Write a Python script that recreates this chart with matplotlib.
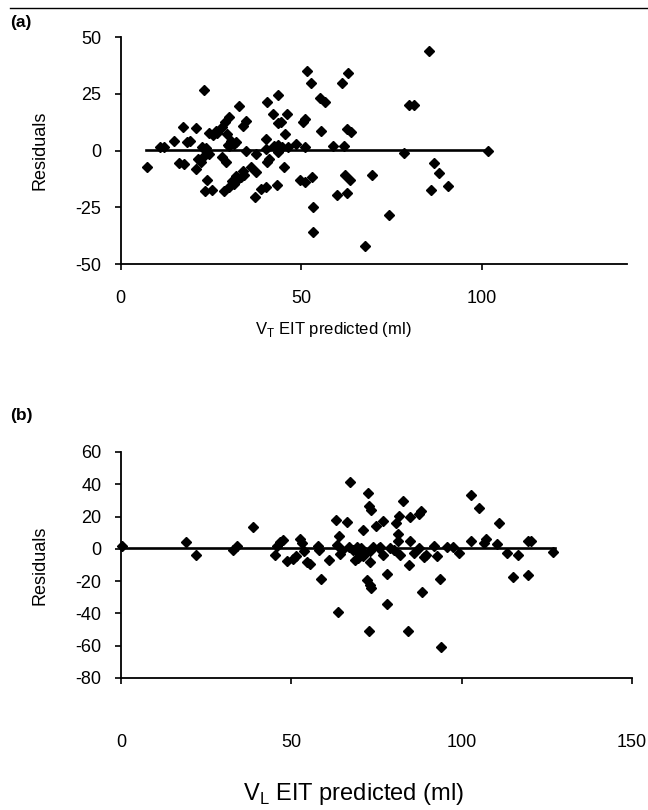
import matplotlib
matplotlib.use("Agg")
import matplotlib.pyplot as plt
from matplotlib.lines import Line2D

plt.rcParams['font.family'] = ['Liberation Sans', 'DejaVu Sans']
plt.rcParams['mathtext.fontset'] = 'custom'
plt.rcParams['axes.unicode_minus'] = False

TICKFONT = ['Liberation Sans Narrow', 'Liberation Sans', 'DejaVu Sans']

# Panel (a): VT EIT predicted vs residuals
a_x = [7.2, 10.8, 11.9, 14.7, 17.3, 16.0, 17.6, 18.4, 19.3, 20.9, 21.3, 22.2, 20.7, 23.0,
       22.5, 23.5, 24.0, 23.2, 24.5, 23.8, 23.3, 25.2, 24.4, 25.5, 26.3, 26.7, 28.0, 28.9,
       30.0, 32.8, 34.6, 33.7, 29.5, 30.4, 31.8, 30.0, 28.1, 29.0, 34.6, 37.4, 36.0, 37.4,
       31.8, 30.9, 33.2, 34.0, 28.6, 30.0, 31.4, 32.5, 37.2, 38.8, 40.2, 43.3, 40.2, 40.2,
       41.1, 40.6, 40.5, 42.2, 43.6, 43.4, 44.4, 46.0, 45.5, 42.5, 43.5, 44.5, 43.4, 45.3,
       46.2, 48.5, 49.5, 51.0, 50.9, 50.4, 51.0, 51.6, 52.7, 52.9, 53.1, 53.1, 55.2, 56.5,
       55.5, 58.6, 61.8, 61.1, 63.0, 62.7, 63.7, 62.1, 63.3, 59.9, 62.5, 67.6, 69.4, 74.2,
       78.3, 79.7, 81.2, 85.3, 86.8, 88.1, 90.4, 85.7, 101.7, 31.3, 29.6, 33.7]
a_y = [-7.3, 1.5, 1.5, 4.4, 10.6, -5.6, -5.8, 3.7, 4.3, 10.0, -3.5, -4.8, -8.2, 26.9,
       1.5, 1.0, -0.5, -2.0, -1.5, -12.9, -17.6, -17.3, 7.6, 6.8, 8.5, 7.6, 10.3, 12.5,
       15.0, 19.8, 13.2, 10.7, 7.3, 4.4, 3.7, 2.2, -3.0, -5.0, 0.0, -1.5, -7.0, -9.3,
       -11.0, -13.2, -11.7, -10.6, -17.6, -16.2, -14.7, -12.5, -20.5, -16.9, -15.9, -15.0, 5.1, 0.7,
       -3.7, -5.1, 21.6, 16.2, 24.7, 12.0, 12.5, 16.2, 7.3, 2.0, 2.5, 1.8, -0.7, -7.0,
       1.5, 2.9, -13.0, -13.8, 13.9, 12.5, 1.8, 35.2, 29.7, -11.5, -25.0, -35.8, 23.4, 21.6,
       8.8, 1.9, 1.9, 29.7, 34.1, 9.4, 8.2, -10.6, -12.9, -19.4, -18.5, -42.0, -10.6, -28.3,
       -1.0, 20.3, 20.3, 44.0, -5.6, -10.0, -15.7, -17.2, -0.2, 3.0, 2.4, -8.8]
a_fit_x = [7.0, 101.7]
a_fit_y = [0.4, 0.4]
a_xticks = [0, 50, 100]
a_yticks = [-50, -25, 0, 25, 50]

# Panel (b): VL EIT predicted vs residuals
b_x = [0.2, 19.1, 22.0, 32.8, 34.0, 38.8, 45.3, 45.7, 46.7, 47.5, 48.7, 50.6, 51.4, 52.5,
       53.2, 53.6, 54.5, 55.6, 57.9, 58.2, 58.8, 61.1, 63.2, 63.4, 63.9, 64.4, 64.8, 66.2,
       67.2, 66.8, 68.2, 68.6, 69.4, 69.6, 69.7, 70.6, 63.8, 71.1, 71.4, 72.6, 72.9, 73.4,
       72.1, 73.0, 73.4, 72.9, 73.0, 73.0, 74.1, 75.0, 75.6, 77.0, 77.0, 78.0, 78.0, 79.0,
       80.0, 80.7, 81.7, 81.4, 81.4, 82.0, 82.9, 84.7, 84.9, 84.6, 84.3, 85.9, 87.4, 87.6,
       88.0, 88.3, 88.8, 89.5, 91.8, 92.8, 93.6, 94.0, 95.6, 97.5, 99.2, 102.8, 102.7, 105.0,
       106.5, 107.1, 110.3, 111.0, 113.4, 115.1, 116.6, 119.6, 120.5, 119.6, 126.9, 76.0, 70.9]
b_y = [1.9, 4.5, -4.1, -0.6, 1.9, 13.4, -3.9, 1.9, 4.2, 5.4, -7.8, -6.4, -4.7, 6.2,
       3.8, -1.5, -8.2, -9.3, 1.7, -0.6, -18.8, -7.0, 17.8, 2.5, 8.2, -3.0, -0.5, 16.9,
       41.7, 0.9, -0.6, -6.8, 1.0, -5.8, -1.7, 0.4, -39.4, 11.8, -3.1, 34.3, 26.6, 24.3,
       -19.5, -22.5, -24.0, -51.2, -8.2, -1.6, 1.4, 13.9, 0.4, 17.0, -4.0, -15.7, -34.2, 0.4,
       -0.6, 16.3, 20.2, 9.0, 4.8, -3.8, 29.4, 19.6, 5.1, -10.2, -50.6, -2.7, 0.4, 21.3,
       23.4, -26.6, -4.8, -3.8, 1.6, -4.5, -18.8, -61.0, 1.4, 1.4, -2.3, 33.4, 4.8, 25.2,
       3.4, 5.9, 2.9, 15.9, -2.7, -17.6, -3.7, 4.9, 4.9, -16.5, -1.8, 1.0, -4.5]
b_fit_x = [0.0, 127.5]
b_fit_y = [0.6, 0.6]
b_xticks = [0, 50, 100, 150]
b_yticks = [-80, -60, -40, -20, 0, 20, 40, 60]

fig = plt.figure(figsize=(6.48, 8.1), dpi=100)

def style(ax, xlim, ylim, xticks, yticks, xpad):
    ax.set_xlim(*xlim)
    ax.set_ylim(*ylim)
    ax.set_xticks(xticks)
    ax.set_yticks(yticks)
    for s in ['top', 'right']:
        ax.spines[s].set_visible(False)
    for s in ['left', 'bottom']:
        ax.spines[s].set_linewidth(1.3)
        ax.spines[s].set_color('black')
    ax.tick_params(axis='y', direction='out', length=4, width=1.2, pad=10)
    ax.tick_params(axis='x', direction='out', length=4, width=1.2, pad=xpad)
    for lab in ax.get_xticklabels() + ax.get_yticklabels():
        lab.set_fontfamily(TICKFONT)
        lab.set_fontsize(13)
    ax.patch.set_alpha(0)

ax1 = fig.add_axes([0.1863, 0.674, 0.781, 0.280])
ax1.plot(a_fit_x, a_fit_y, color='black', lw=1.9, zorder=2)
ax1.plot(a_x, a_y, linestyle='none', marker='D', markersize=5.5, color='black', zorder=3,
         clip_on=False)
style(ax1, (0, 140), (-50, 50), a_xticks, a_yticks, 15)
ax1.set_ylabel('Residuals', fontsize=13)
ax1.yaxis.set_label_coords(-0.143, 0.5)
ax1.set_xlabel(r'V$_\mathregular{T}$ EIT predicted (ml)', fontsize=12)
ax1.xaxis.set_label_coords(0.42, -0.245)

ax2 = fig.add_axes([0.1867, 0.163, 0.7886, 0.279])
ax2.plot(b_fit_x, b_fit_y, color='black', lw=1.9, zorder=2)
ax2.plot(b_x, b_y, linestyle='none', marker='D', markersize=5.5, color='black', zorder=3,
         clip_on=False)
style(ax2, (0, 150), (-80, 60), b_xticks, b_yticks, 36)
ax2.set_ylabel('Residuals', fontsize=13)
ax2.yaxis.set_label_coords(-0.142, 0.5)
ax2.set_xlabel(r'V$_\mathregular{L}$ EIT predicted (ml)', fontsize=17)
ax2.xaxis.set_label_coords(0.455, -0.455)

fig.text(0.016, 0.972, '(a)', fontsize=12.5, fontweight='bold', va='center', ha='left')
fig.text(0.016, 0.487, '(b)', fontsize=12.5, fontweight='bold', va='center', ha='left')
fig.add_artist(Line2D([0.015, 1.0], [0.990, 0.990], color='black', lw=1.0,
                      transform=fig.transFigure))

fig.savefig('out.png', dpi=100)
